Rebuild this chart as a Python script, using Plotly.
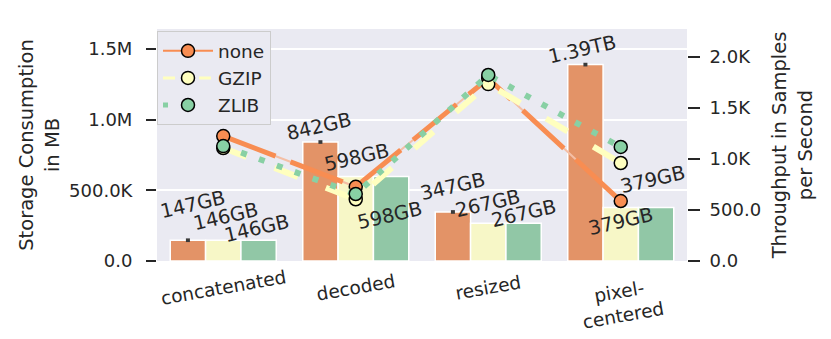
import plotly.graph_objects as go

# ---------------- data ----------------
categories = ["concatenated", "decoded", "resized", "pixel-centered"]
category_labels = ["concatenated", "decoded", "resized", "pixel-<br>centered"]
series = ["none", "GZIP", "ZLIB"]

storage_none = [147000, 842000, 347000, 1390000]   # MB
storage_gzip = [146000, 598000, 267000, 379000]
storage_zlib = [146000, 598000, 267000, 379000]

throughput_none = [1225, 728, 1790, 588]            # samples / s
throughput_gzip = [1108, 605, 1735, 961]
throughput_zlib = [1127, 657, 1824, 1118]

left_tickvals = [0, 500000, 1000000, 1500000]
left_ticktext = ["0.0", "500.0K", "1.0M", "1.5M"]
right_tickvals = [0, 500, 1000, 1500, 2000]
right_ticktext = ["0.0", "500.0", "1.0K", "1.5K", "2.0K"]

# ---------------- styles ----------------
line_colors = ["#F88D52", "#FFFFBF", "#88D0A4"]
bar_colors = ["#E39367", "#F7F7C7", "#91C7A6"]
TXT = "#262626"
FONT = "DejaVu Sans"

# label offsets (px) relative to bar centre / top, as placed in the reference
label_shift = {
    "none": [(5, 36), (-1, 16), (0, 25), (-3, 15)],
    "GZIP": [(3, 24), (1, 19), (0, 20), (0, -14)],
    "ZLIB": [(-2, 12), (-1, -39), (0, 10), (-3, 28)],
}

storage = {"none": storage_none, "GZIP": storage_gzip, "ZLIB": storage_zlib}
throughput = {"none": throughput_none, "GZIP": throughput_gzip, "ZLIB": throughput_zlib}


def fmt(v):
    return f"{v/1e6:.2f}TB" if v >= 1e6 else f"{v/1e3:.0f}GB"


fig = go.Figure()

bargap = 0.2
bar_w = (1 - bargap) / len(series)

# bars
for k, s in enumerate(series):
    err = None
    if s == "none":
        err = dict(type="data", array=[13000] * len(categories), symmetric=True,
                   thickness=4, width=0, color="#3a3a3a")
    fig.add_trace(go.Bar(
        x=categories, y=storage[s], name=s, showlegend=False,
        marker=dict(color=bar_colors[k], line=dict(color="white", width=1.5)),
        error_y=err, yaxis="y",
    ))

# lines (throughput)
fig.add_trace(go.Scatter(
    x=categories, y=throughput_none, yaxis="y2", mode="lines", showlegend=False,
    line=dict(color="#F4BFA6", width=2), hoverinfo="skip",
))
dashes = ["56px,16px", "25px,30px", "6px,13px"]
widths = [5, 6, 6]
for k, s in enumerate(series):
    fig.add_trace(go.Scatter(
        x=categories, y=throughput[s], yaxis="y2", mode="lines+markers",
        showlegend=False, name=s,
        line=dict(color=line_colors[k], width=widths[k], dash=dashes[k]),
        marker=dict(size=13, color=line_colors[k], line=dict(color="black", width=1.5)),
    ))

# legend-only entries (thin lines as in the reference legend)
leg_dash = ["solid", "12px,6px", "5px,20px"]
leg_w = [2, 3, 5]
for k, s in enumerate(series):
    fig.add_trace(go.Scatter(
        x=[None], y=[None], yaxis="y2", mode="lines+markers", name=s,
        line=dict(color=line_colors[k], width=leg_w[k], dash=leg_dash[k]),
        marker=dict(size=13, color=line_colors[k], line=dict(color="black", width=1.5)),
    ))

# bar value labels
annotations = []
for k, s in enumerate(series):
    for i, v in enumerate(storage[s]):
        dx, dy = label_shift[s][i]
        annotations.append(dict(
            x=i + (k - 1) * bar_w, y=v, xref="x", yref="y",
            text=fmt(v), showarrow=False, textangle=-13,
            xanchor="center", yanchor="middle", xshift=dx, yshift=dy,
            font=dict(family=FONT, size=19.5, color=TXT),
        ))

# x category labels (rotated, centred on the category)
for i, lab in enumerate(category_labels):
    two = "<br>" in lab
    annotations.append(dict(
        x=i, y=0, xref="x", yref="paper", text=lab, showarrow=False,
        textangle=-10, xanchor="center", yanchor="middle",
        yshift=-42 if two else -26,
        font=dict(family=FONT, size=18.5, color=TXT),
    ))

# the page body has an 8px margin, so the figure is drawn 8px smaller
fig.update_layout(
    width=823, height=331,
    margin=dict(l=149, r=144, t=21, b=78, pad=0),
    paper_bgcolor="white", plot_bgcolor="#EAEAF2",
    font=dict(family=FONT, size=18, color=TXT),
    barmode="group", bargap=bargap, bargroupgap=0,
    annotations=annotations,
    xaxis=dict(type="category", range=[-0.5, 3.5], showticklabels=False,
               showgrid=False, zeroline=False, ticks=""),
    yaxis=dict(range=[0, 1.642e6], tickvals=left_tickvals, ticktext=left_ticktext,
               showgrid=True, gridcolor="white", gridwidth=1.5, zeroline=False,
               ticks="outside", ticklen=10, tickwidth=2, tickcolor=TXT,
               ticklabelstandoff=10,
               tickfont=dict(family=FONT, size=18, color=TXT),
               title=dict(text="Storage Consumption<br>in MB", standoff=4,
                          font=dict(family=FONT, size=19.5, color=TXT))),
    yaxis2=dict(range=[0, 2275], overlaying="y", side="right",
                tickvals=right_tickvals, ticktext=right_ticktext,
                showgrid=False, zeroline=False,
                ticks="outside", ticklen=12, tickwidth=2, tickcolor=TXT,
                ticklabelstandoff=6,
                tickfont=dict(family=FONT, size=18, color=TXT),
                title=dict(text="Throughput in Samples<br>per Second", standoff=12,
                           font=dict(family=FONT, size=19.5, color=TXT))),
    legend=dict(x=0, y=0.99, xanchor="left", yanchor="top",
                bgcolor="#EAEAF2", bordercolor="#CCCCCC", borderwidth=1,
                font=dict(family=FONT, size=18.5, color=TXT),
                itemwidth=50, tracegroupgap=0),
    showlegend=True,
)

fig.write_html("out.html")
